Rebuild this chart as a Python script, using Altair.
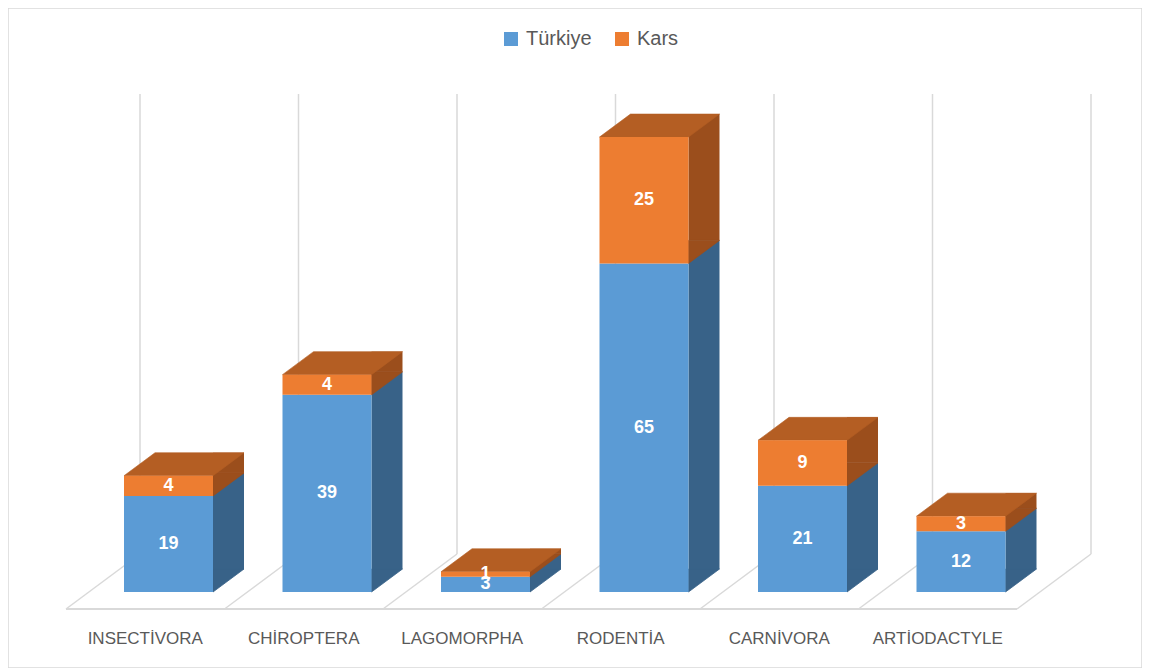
import altair as alt
import pandas as pd

# ---- data ----
categories = ["INSECTİVORA", "CHİROPTERA", "LAGOMORPHA", "RODENTİA", "CARNİVORA", "ARTİODACTYLE"]
series = ["Türkiye", "Kars"]
turkiye = [19, 39, 3, 65, 21, 12]
kars = [4, 4, 1, 25, 9, 3]

# ---- style ----
FRONT = ["#5B9BD5", "#ED7D31"]
SIDE = ["#386288", "#9B4E1C"]
TOP = "#B45E23"
GRID = "#D9D9D9"
TEXT = "#595959"
FONT = "Liberation Sans"

# ---- layout (pixels inside the view) ----
W, H = 1134, 660
X0, X1 = 58, 1009          # floor front edge
Y_BASE, Y_TOP = 584, 124   # value 0 and value YMAX on the front plane
YMAX = 91
BAR_W = 89
DX, DY = 31, 23            # depth of the bars
BAR_SHIFT = 23.25          # bar front plane shift from floor front
FLOOR_DX, FLOOR_FRONT, FLOOR_BACK = 74, 17, 38

rows = []
for i, c in enumerate(categories):
    rows.append({"cat": c, "series": series[0], "value": turkiye[i], "order": 0})
    rows.append({"cat": c, "series": series[1], "value": kars[i], "order": 1})
df = pd.DataFrame(rows)
grid_df = pd.DataFrame({"b": list(range(len(categories) + 1))})
edge_df = pd.DataFrame({"a": [0], "b": [len(categories)]})

xband = alt.Scale(domain=categories, range=[X0, X1], paddingInner=0, paddingOuter=0)
xlin = alt.Scale(domain=[0, len(categories)], range=[X0, X1], nice=False, zero=False)
yscale = alt.Scale(domain=[0, YMAX], range=[Y_BASE, Y_TOP], nice=False, zero=True)

base = alt.Chart(df).transform_stack(
    stack="value", groupby=["cat"], as_=["y0", "y1"],
    sort=[alt.SortField("order", order="ascending")]
).transform_calculate(mid="(datum.y0 + datum.y1) / 2")

xcat = alt.X("cat:N", scale=xband, axis=None)

# back wall gridlines
back_lines = alt.Chart(grid_df).mark_rule(
    color=GRID, strokeWidth=1.5, xOffset=FLOOR_DX, yOffset=-FLOOR_BACK, y2Offset=-FLOOR_BACK
).encode(
    x=alt.X("b:Q", scale=xlin, axis=None),
    y=alt.YDatum(0, scale=yscale, axis=None),
    y2=alt.Y2Datum(YMAX),
)

# floor diagonals
floor_diag = alt.Chart(grid_df).mark_rule(
    color=GRID, strokeWidth=1.5, x2Offset=FLOOR_DX, yOffset=FLOOR_FRONT, y2Offset=-FLOOR_BACK
).encode(
    x=alt.X("b:Q", scale=xlin, axis=None),
    x2="b:Q",
    y=alt.YDatum(0, scale=yscale, axis=None),
    y2=alt.Y2Datum(0),
)

# floor front edge
floor_front = alt.Chart(edge_df).mark_rule(
    color=GRID, strokeWidth=2, yOffset=FLOOR_FRONT
).encode(
    x=alt.X("a:Q", scale=xlin, axis=None),
    x2="b:Q",
    y=alt.YDatum(0, scale=yscale, axis=None),
)

side_scale = alt.Scale(domain=series, range=SIDE)

side = base.mark_bar(
    width=DX, xOffset=BAR_SHIFT + BAR_W / 2 + DX / 2, yOffset=-DY, y2Offset=-DY
).encode(
    x=xcat,
    y=alt.Y("y0:Q", scale=yscale, axis=None),
    y2="y1:Q",
    color=alt.Color("series:N", scale=side_scale, legend=None),
)

tri = base.mark_point(
    shape=f"M0,{-DY}L0,0L{DX},{-DY}Z", size=4, filled=True, opacity=1,
    strokeWidth=0.8, strokeJoin="miter", xOffset=BAR_SHIFT + BAR_W / 2
).encode(
    x=xcat,
    y=alt.Y("y0:Q", scale=yscale, axis=None),
    color=alt.Color("series:N", scale=side_scale, legend=None),
    stroke=alt.Stroke("series:N", scale=side_scale, legend=None),
)

top = base.transform_filter(alt.datum.series == series[-1]).mark_point(
    shape=f"M0,0L{BAR_W},0L{BAR_W + DX},{-DY}L{DX},{-DY}Z", size=4, filled=True,
    opacity=1, strokeWidth=0.6, stroke=TOP, color=TOP, xOffset=BAR_SHIFT - BAR_W / 2
).encode(
    x=xcat,
    y=alt.Y("y1:Q", scale=yscale, axis=None),
)

front = base.mark_bar(width=BAR_W, xOffset=BAR_SHIFT).encode(
    x=alt.X(
        "cat:N", scale=xband, sort=categories,
        axis=alt.Axis(
            title=None, orient="bottom", offset=-42, domain=False, ticks=False,
            labelPadding=4, labelFontSize=17, labelColor=TEXT, labelFont=FONT,
            labelAngle=0, grid=False,
        ),
    ),
    y=alt.Y("y0:Q", scale=yscale, axis=None),
    y2="y1:Q",
    color=alt.Color(
        "series:N", scale=alt.Scale(domain=series, range=FRONT),
        legend=alt.Legend(
            title=None, orient="none", legendX=493, legendY=21, direction="horizontal",
            symbolType="square", symbolSize=196, symbolStrokeWidth=0,
            labelFontSize=20, labelFont=FONT, labelColor=TEXT,
            columnPadding=20, labelOffset=5, padding=0,
        ),
    ),
)

labels = base.mark_text(
    xOffset=BAR_SHIFT, fontSize=18, fontWeight="bold", color="white",
    font=FONT, baseline="middle", align="center"
).encode(
    x=xcat,
    y=alt.Y("mid:Q", scale=yscale, axis=None),
    text="value:Q",
)

chart = alt.layer(
    back_lines, floor_diag, floor_front, side, tri, top, front, labels
).resolve_scale(
    x="independent", color="independent", stroke="independent"
).properties(
    width=W, height=H, padding=0, autosize="none", background="white"
).configure_view(
    stroke=GRID, strokeWidth=1.5
)

chart.save("out.html", embed_options={"renderer": "svg", "actions": False})
